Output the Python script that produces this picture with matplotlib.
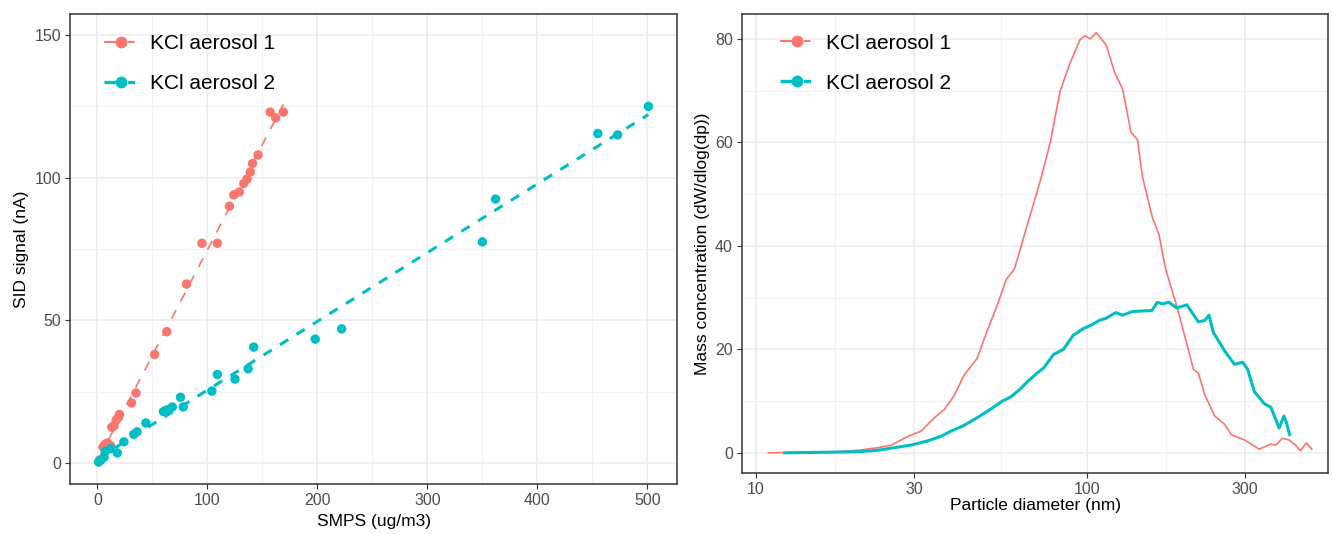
import numpy as np
import matplotlib
matplotlib.use("Agg")
import matplotlib.pyplot as plt
from matplotlib.lines import Line2D
from matplotlib.ticker import FixedLocator, NullFormatter

RED = "#F8766D"
CYAN = "#00BFC4"
labels = ["KCl aerosol 1", "KCl aerosol 2"]

# left panel: SMPS mass vs SID signal
smps_1 = [2, 5, 7, 9, 12, 13, 15, 17, 19, 20, 31, 35, 52, 63, 81, 95, 109, 120,
          124, 129, 133, 136, 139, 141, 146, 157, 162, 169]
sid_1 = [1, 5.6, 6.5, 7, 6, 12.5, 13, 15, 16, 17, 21, 24.5, 38, 46, 62.7, 77, 77,
         90, 94, 95, 98, 99.5, 102, 105, 108, 123, 121, 123]
smps_2 = [1, 3, 6, 7, 12, 18, 24, 33, 36, 44, 60, 63, 68, 75.5, 78, 104, 109, 125,
          137, 142, 198, 222, 350, 362, 455, 473, 501]
sid_2 = [0.3, 1, 2, 4, 5, 3.5, 7.4, 10, 10.9, 14, 18, 18.6, 19.6, 23, 19.6, 25.2,
         31, 29.4, 33, 40.6, 43.4, 47, 77.5, 92.5, 115.5, 115, 125]

# right panel: size distributions
dp_1 = [10.9, 17.4, 20.4, 23.4, 25.7, 28.8, 31.5, 34.6, 37.1, 39.7, 42.5, 46.6,
        49.9, 53.5, 57, 60.3, 66, 72.3, 77.4, 82.9, 88.7, 95.1, 98.4, 102.3, 106.6,
        114.2, 120.9, 128, 135.6, 141.9, 146.9, 157.4, 164.8, 172.5, 186.6, 197.7,
        209.5, 216.8, 227, 243, 260.3, 272.4, 298.5, 331, 358.9, 371.7, 388.5,
        406.7, 425.8, 440.6, 459.4, 477.5]
mass_1 = [0, 0.2, 0.5, 1.0, 1.5, 3.2, 4.2, 6.8, 8.4, 11.1, 15, 18.3, 23.6, 28.5,
          33.5, 35.5, 44.1, 52.7, 60, 69.9, 75.2, 79.8, 80.6, 80, 81.2, 78.8, 73.6,
          70.3, 62, 60.5, 53.4, 45.5, 42.2, 35.6, 28.3, 22.3, 16.1, 15.4, 11.1, 7.1,
          5.5, 3.5, 2.5, 0.7, 1.7, 1.5, 2.8, 2.5, 1.5, 0.4, 1.9, 0.7]
dp_2 = [12.2, 20.4, 23.4, 26.2, 29.4, 33, 36.2, 38.8, 42.5, 46.6, 51, 55.5, 58.8,
        63, 65.9, 70.6, 73.9, 79.2, 84.8, 90.8, 97.3, 103, 109, 114, 122, 128, 137,
        157, 163, 168.7, 176.6, 186.6, 200, 216.8, 227, 233.4, 240.4, 260.3, 278.6,
        295, 305.5, 320, 342.8, 358.9, 380, 393, 400, 409]
mass_2 = [0, 0.2, 0.5, 1, 1.5, 2.3, 3.2, 4.2, 5.3, 6.8, 8.4, 10, 10.8, 12.4, 13.7,
          15.4, 16.4, 19, 20, 22.7, 24, 24.7, 25.6, 26, 27.1, 26.6, 27.3, 27.5, 29.1,
          28.8, 29.1, 28, 28.6, 25.3, 25.6, 26.6, 23.3, 19.7, 17.1, 17.5, 16.1, 11.8,
          9.5, 8.8, 4.8, 7.1, 5.8, 3.5]

plt.rcParams["font.family"] = ["Liberation Sans", "DejaVu Sans"]
plt.rcParams["lines.scale_dashes"] = False

fig = plt.figure(figsize=(13.32, 5.34), dpi=100)
ax1 = fig.add_axes([70 / 1332, 1 - 484 / 534, 607 / 1332, 470 / 534])
ax2 = fig.add_axes([742 / 1332, 1 - 473 / 534, 586 / 1332, 459 / 534])


def style(ax):
    ax.set_facecolor("white")
    for s in ax.spines.values():
        s.set_color("#333333")
        s.set_linewidth(1.1)
    ax.grid(True, which="major", color="#EBEBEB", lw=1.1, zorder=0)
    ax.grid(True, which="minor", color="#F2F2F2", lw=0.8, zorder=0)
    ax.set_axisbelow(True)
    ax.tick_params(which="major", length=3.5, width=0.8, color="#333333",
                   labelcolor="#4D4D4D", labelsize=11.5, pad=3)
    ax.tick_params(which="minor", length=0)


# left panel
for x, y, c, lw in [(smps_1, sid_1, RED, 1.2), (smps_2, sid_2, CYAN, 2.2)]:
    ax1.scatter(x, y, s=46, color=c, edgecolors="none", zorder=3)
    k, b = np.polyfit(x, y, 1)
    xs = np.array([min(x), max(x)])
    ax1.plot(xs, k * xs + b, color=c, lw=lw, dashes=(7, 7), zorder=2)

ax1.set_xlim(-25, 527)
ax1.set_ylim(-7.4, 157.4)
ax1.set_xticks([0, 100, 200, 300, 400, 500])
ax1.set_yticks([0, 50, 100, 150])
ax1.xaxis.set_minor_locator(FixedLocator([50, 150, 250, 350, 450]))
ax1.yaxis.set_minor_locator(FixedLocator([25, 75, 125]))
style(ax1)
ax1.set_xlabel("SMPS (ug/m3)", fontsize=12.5, labelpad=4)
ax1.set_ylabel("SID signal (nA)", fontsize=12.5, labelpad=4)

# right panel
ax2.plot(dp_1, mass_1, color=RED, lw=1.2, zorder=3)
ax2.plot(dp_2, mass_2, color=CYAN, lw=2.2, zorder=3)
ax2.set_xscale("log")
ax2.set_xlim(9.07, 534)
ax2.set_ylim(-3.9, 84.8)
ax2.xaxis.set_major_locator(FixedLocator([10, 30, 100, 300]))
ax2.set_xticklabels(["10", "30", "100", "300"])
ax2.xaxis.set_minor_locator(FixedLocator([17.32, 54.77, 173.2]))
ax2.xaxis.set_minor_formatter(NullFormatter())
ax2.set_yticks([0, 20, 40, 60, 80])
ax2.yaxis.set_minor_locator(FixedLocator([10, 30, 50, 70]))
style(ax2)
ax2.set_xlabel("Particle diameter (nm)", fontsize=12.5, labelpad=1)
ax2.set_ylabel("Mass concentration (dW/dlog(dp))", fontsize=12.5, labelpad=4)

handles = [Line2D([], [], color=c, lw=lw, marker="o", markersize=7.5,
                  dashes=(12, 5, 5, 20))
           for c, lw in [(RED, 1.4), (CYAN, 2.4)]]
for ax, x0 in ((ax1, 0.056), (ax2, 0.065)):
    ax.legend(handles, labels, loc="upper left", bbox_to_anchor=(x0, 0.957),
              frameon=False, fontsize=15, handlelength=1.6, handletextpad=0.62,
              labelspacing=1.0, borderaxespad=0, borderpad=0)

fig.savefig("out.png", dpi=100)
